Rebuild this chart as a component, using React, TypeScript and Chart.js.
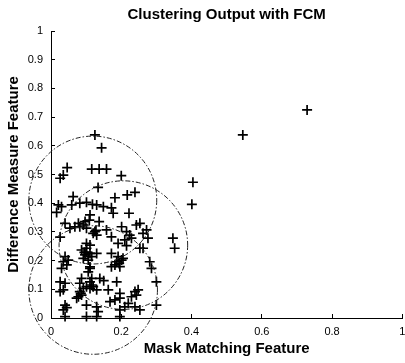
import React, { useEffect, useRef } from "react";
import { Chart, registerables } from "chart.js";

Chart.register(...registerables);

const TITLE = "Clustering Output with FCM";
const X_LABEL = "Mask Matching Feature";
const Y_LABEL = "Difference Measure Feature";

const xTickLabels = ["0", "0.2", "0.4", "0.6", "0.8", "1"];
const yTickLabels = ["0", "0.1", "0.2", "0.3", "0.4", "0.5", "0.6", "0.7", "0.8", "0.9", "1"];

// Scatter points (Mask Matching Feature, Difference Measure Feature)
const pointX = [
  0.125, 0.144, 0.046, 0.035, 0.026,
  0.116, 0.137, 0.158, 0.2, 0.404, 0.401,
  0.134, 0.239, 0.217, 0.182, 0.063,
  0.021, 0.03, 0.016,
  0.059, 0.082, 0.101, 0.118, 0.13, 0.149, 0.172, 0.177,
  0.222,
  0.111, 0.109, 0.097, 0.092, 0.078,
  0.137, 0.04,
  0.054, 0.068, 0.101, 0.082,
  0.125, 0.13, 0.12, 0.128,
  0.201, 0.215, 0.243, 0.253,
  0.272, 0.276, 0.262,
  0.224, 0.21, 0.229,
  0.191, 0.172, 0.158,
  0.347, 0.352,
  0.253, 0.262,
  0.087, 0.101, 0.097, 0.111, 0.116, 0.13, 0.092, 0.106, 0.101, 0.095,
  0.101, 0.111,
  0.04, 0.035, 0.03, 0.049,
  0.191, 0.201, 0.182, 0.196, 0.172, 0.187, 0.205, 0.194,
  0.111, 0.106, 0.116, 0.111,
  0.087, 0.082, 0.139, 0.187, 0.15,
  0.026, 0.04, 0.035, 0.026,
  0.082, 0.092, 0.101, 0.111, 0.078, 0.087, 0.073, 0.116, 0.12, 0.085,
  0.13, 0.163,
  0.239, 0.243, 0.229, 0.248,
  0.196, 0.196, 0.168, 0.182,
  0.22, 0.239, 0.253, 0.21,
  0.101, 0.13, 0.134,
  0.04, 0.045, 0.035,
  0.04, 0.101, 0.13, 0.196, 0.196,
  0.3, 0.281, 0.286, 0.3,
  0.172, 0.215, 0.045,
  0.546, 0.729,
  0.111, 0.026,
];
const pointY = [
  0.638, 0.593, 0.524, 0.498, 0.487,
  0.519, 0.519, 0.519, 0.496, 0.473, 0.396,
  0.455, 0.438, 0.429, 0.419, 0.423,
  0.394, 0.388, 0.368,
  0.394, 0.4, 0.403, 0.396, 0.394, 0.388, 0.384, 0.365,
  0.365,
  0.359, 0.341, 0.336, 0.324, 0.33,
  0.336, 0.33,
  0.313, 0.318, 0.313, 0.318,
  0.301, 0.289, 0.295, 0.305,
  0.318, 0.301, 0.324, 0.33,
  0.307, 0.278, 0.295,
  0.289, 0.272, 0.278,
  0.26, 0.283, 0.307,
  0.278, 0.243,
  0.243, 0.243,
  0.237, 0.243, 0.22, 0.225, 0.214, 0.225, 0.208, 0.202, 0.23, 0.229,
  0.26, 0.254,
  0.214, 0.196, 0.173, 0.202,
  0.214, 0.202, 0.185, 0.179, 0.179, 0.196, 0.208, 0.19,
  0.173, 0.161, 0.138, 0.126,
  0.138, 0.121, 0.138, 0.126, 0.13,
  0.126, 0.121, 0.098, 0.092,
  0.092, 0.103, 0.109, 0.103, 0.074, 0.08, 0.069, 0.115, 0.109, 0.086,
  0.098, 0.098,
  0.092, 0.08, 0.074, 0.098,
  0.086, 0.069, 0.057, 0.063,
  0.051, 0.039, 0.028, 0.039,
  0.045, 0.039, 0.022,
  0.045, 0.036, 0.028,
  0.005, 0.005, 0.005, 0.028, 0.005,
  0.045, 0.196, 0.173, 0.126,
  0.225, 0.252, 0.185,
  0.638, 0.725,
  0.178, 0.282,
];

// Cluster circles: centre (x, y) in data units, radius in x-axis units
const circleX = [0.119, 0.206, 0.12];
const circleY = [0.411, 0.254, 0.0976];
const circleR = [0.182, 0.183, 0.183];

const FONT = "'Liberation Sans', Arial, Helvetica, sans-serif";

const circlePlugin = {
  id: "fcmCircles",
  afterDraw(chart: any) {
    const xs = chart.scales.x;
    const ys = chart.scales.y;
    const ctx = chart.ctx;
    ctx.save();
    ctx.strokeStyle = "#222";
    ctx.lineWidth = 1;
    ctx.setLineDash([5, 2, 1.5, 2]);
    for (let i = 0; i < circleX.length; i++) {
      const cx = xs.getPixelForValue(circleX[i]);
      const cy = ys.getPixelForValue(circleY[i]);
      const r = xs.getPixelForValue(circleX[i] + circleR[i]) - cx;
      ctx.beginPath();
      ctx.arc(cx, cy, r, 0, Math.PI * 2);
      ctx.stroke();
    }
    ctx.restore();
  },
};

export default function App() {
  const ref = useRef<HTMLCanvasElement | null>(null);
  useEffect(() => {
    if (!ref.current) return;
    const data = pointX.map((x, i) => ({ x, y: pointY[i] }));
    const chart = new Chart(ref.current, {
      type: "scatter",
      data: {
        datasets: [
          {
            data,
            pointStyle: "cross",
            pointRadius: 5,
            pointBorderWidth: 1.7,
            borderColor: "#000",
            backgroundColor: "#000",
            clip: false as any,
          },
        ],
      },
      options: {
        responsive: false,
        animation: false,
        devicePixelRatio: 1,
        layout: { padding: { left: 2, right: 0, top: 0, bottom: 0 } },
        plugins: {
          legend: { display: false },
          tooltip: { enabled: false },
          title: {
            display: true,
            text: TITLE,
            fullSize: false,
            color: "#000",
            font: { family: FONT, size: 15, weight: "bold" },
            padding: { top: 5.5, bottom: 7.5 },
          },
        },
        scales: {
          x: {
            type: "linear",
            min: 0,
            max: 1,
            position: "bottom",
            afterFit: (s: any) => {
              s.height = 45;
              s.paddingLeft = 0;
              s.paddingRight = 0;
            },
            ticks: {
              stepSize: 0.2,
              autoSkip: false,
              maxRotation: 0,
              color: "#000",
              font: { family: FONT, size: 11 },
              padding: 11,
              callback: (_v: any, i: number) => xTickLabels[i],
            },
            grid: { display: true, drawOnChartArea: false, drawTicks: true, tickLength: -4, color: "#000", lineWidth: 1 },
            border: { display: true, color: "#000", width: 1 },
            title: {
              display: true,
              text: X_LABEL,
              color: "#000",
              font: { family: FONT, size: 15, weight: "bold" },
              padding: { top: 2, bottom: 5 },
            },
          },
          y: {
            type: "linear",
            min: 0,
            max: 1,
            position: "left",
            afterFit: (s: any) => {
              s.width = 49;
              s.paddingTop = 0;
              s.paddingBottom = 0;
            },
            ticks: {
              stepSize: 0.1,
              autoSkip: false,
              color: "#000",
              font: { family: FONT, size: 11 },
              padding: 12,
              callback: (_v: any, i: number) => yTickLabels[i],
            },
            grid: { display: true, drawOnChartArea: false, drawTicks: true, tickLength: -4, color: "#000", lineWidth: 1 },
            border: { display: true, color: "#000", width: 1 },
            title: {
              display: true,
              text: Y_LABEL,
              color: "#000",
              font: { family: FONT, size: 15, weight: "bold" },
              padding: { top: 3, bottom: 3 },
            },
          },
        },
      },
      plugins: [circlePlugin],
    });
    return () => chart.destroy();
  }, []);
  return (
    <div style={{ position: "fixed", left: 0, top: 0, width: 405, height: 363, overflow: "hidden", background: "#fff" }}>
      <canvas ref={ref} width={409} height={363} style={{ display: "block" }} />
    </div>
  );
}
